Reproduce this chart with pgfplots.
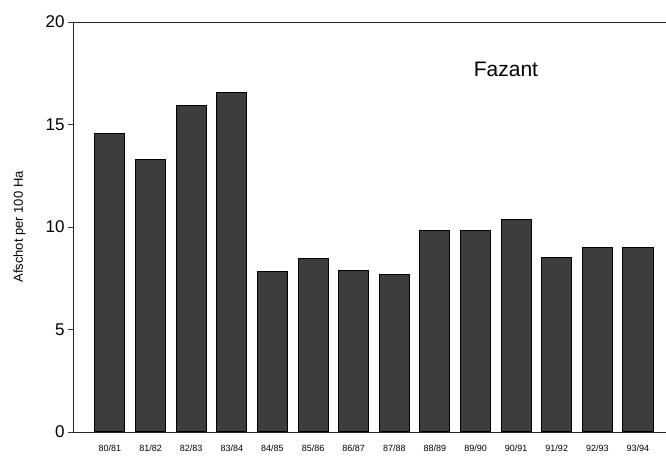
\documentclass[border=0pt]{standalone}
\usepackage{fontspec}
\setmainfont{Liberation Sans}
\usepackage{pgfplots}
\pgfplotsset{compat=1.18}
\begin{document}
\begin{tikzpicture}
\useasboundingbox (0pt,0pt) rectangle (666pt,457pt);
\begin{axis}[
    at={(73pt,25pt)}, anchor=south west,
    scale only axis, width=593pt, height=410pt,
    xmin=-0.91, xmax=13.69,
    ymin=0, ymax=20,
    axis lines=left,
    axis line style={-, line width=0.9pt, black!85},
    ytick={0,5,10,15,20},
    xtick=data,
    xticklabels={80/81,81/82,82/83,83/84,84/85,85/86,86/87,87/88,88/89,89/90,90/91,91/92,92/93,93/94},
    x tick label style={font=\fontsize{9}{10}\selectfont, yshift=-4pt},
    y tick label style={font=\fontsize{17}{18}\selectfont},
    ylabel={Afschot per 100 Ha},
    ylabel style={font=\fontsize{13}{14}\selectfont, yshift=13pt},
    major tick length=5pt,
    ytick style={line width=0.8pt, black!80},
    xtick style={draw=none},
    tick align=outside,
    clip=false,
    /pgf/number format/assume math mode=true,
]
\addplot[ybar, bar width=0.74, fill=black!76, draw=black, line width=1pt] coordinates {
    (0,14.55) (1,13.3) (2,15.95) (3,16.55) (4,7.85) (5,8.45) (6,7.9)
    (7,7.68) (8,9.85) (9,9.85) (10,10.35) (11,8.5) (12,8.98) (13,8.98)
};
\draw[line width=0.9pt, black!85] (rel axis cs:0,1) -- (rel axis cs:1,1);
\node[font=\fontsize{21}{24}\selectfont] at (axis cs:9.75,17.7) {Fazant};
\end{axis}
\end{tikzpicture}
\end{document}
